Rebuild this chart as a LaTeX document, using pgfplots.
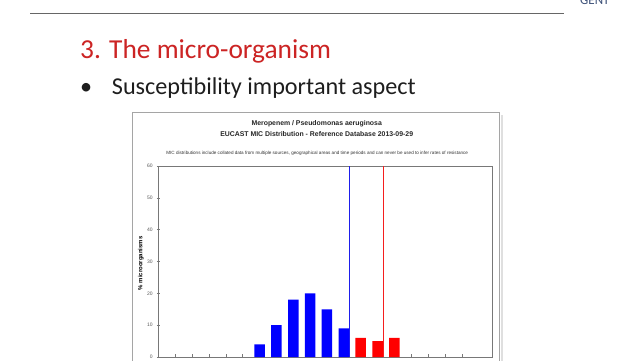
\documentclass[border=0pt]{standalone}
\usepackage{pgfplots}
\pgfplotsset{compat=1.18}
\usepackage{pgfplotstable}
\usepackage{fontspec}
\setmainfont{Carlito}
\newfontfamily\arial{Liberation Sans}
\definecolor{slidered}{RGB}{204,36,36}
\definecolor{slidetext}{RGB}{30,30,30}
\definecolor{frameg}{RGB}{120,120,120}
\definecolor{boxg}{RGB}{165,165,165}
\definecolor{ugent}{RGB}{60,80,120}
\definecolor{barblue}{RGB}{0,0,255}
\definecolor{barred}{RGB}{255,0,0}
\definecolor{lineblue}{RGB}{30,30,235}
\definecolor{linered}{RGB}{245,30,30}

\pgfplotstableread{
x y
5 4
6 10
7 18
8 20
9 15
10 9
}\susc
\pgfplotstableread{
x y
11 6
12 5
13 6
}\resist

\begin{document}
\begin{tikzpicture}[x=1pt,y=1pt]
\path[use as bounding box, fill=white] (0,0) rectangle (640,360);
% slide header
\draw[gray!80!black, line width=0.9pt] (30,346.7) -- (564,346.7);
\node[anchor=base west, inner sep=0, text=ugent, font=\fontsize{13}{14}\selectfont] at (580,355.5) {GENT};
\node[anchor=base west, inner sep=0, text=slidered, font=\fontsize{27.4}{32}\selectfont] at (80,301.7) {3. The micro-organism};
\node[anchor=base west, inner sep=0, text=slidetext, font=\fontsize{24.2}{28}\selectfont] at (80,265.7) {•};
\node[anchor=base west, inner sep=0, text=slidetext, font=\fontsize{24.2}{28}\selectfont] at (111.7,265.7) {Susceptibility important aspect};
% chart window
\draw[boxg, line width=0.8pt] (132.3,-5) -- (132.3,247.7) -- (499.3,247.7) -- (499.3,-5);
\draw[gray!25, line width=2pt] (501.5,-5) -- (501.5,245);
\node[font=\arial\bfseries\fontsize{6.9}{8}\selectfont, text=black!85] at (316.7,236) {Meropenem / Pseudomonas aeruginosa};
\node[font=\arial\bfseries\fontsize{6.9}{8}\selectfont, text=black!85] at (316.7,225.7) {EUCAST MIC Distribution - Reference Database 2013-09-29};
\node[font=\arial\fontsize{4.6}{5}\selectfont, text=black!80] at (317.2,206.3) {MIC distributions include collated data from multiple sources, geographical areas and time periods and can never be used to infer rates of resistance};
\begin{axis}[
  at={(158.3pt,3pt)}, anchor=south west,
  scale only axis, width=334pt, height=191pt,
  xmin=-1, xmax=18.8, ymin=0, ymax=60,
  xtick={0,1,...,17}, xticklabels={},
  ytick={0,10,20,30,40,50,60},
  xtick pos=bottom, ytick pos=left,
  axis line style={frameg, line width=0.7pt},
  tick style={frameg, line width=0.5pt},
  major tick length=3pt,
  tick align=inside,
  ytick align=center,
  /pgf/number format/assume math mode=true,
  yticklabel style={font=\arial\fontsize{5}{6}\selectfont, text=black!65, xshift=-0.5pt},
  ylabel={\% microorganisms},
  ylabel style={font=\arial\bfseries\fontsize{6}{7}\selectfont, at={(axis description cs:-0.052,0.49)}, anchor=center},
  clip=false,
]
\addplot[ybar, bar width=10.5pt, bar shift=0pt, fill=barblue, draw=none] table[x=x,y=y] {\susc};
\addplot[ybar, bar width=10.5pt, bar shift=0pt, fill=barred, draw=none] table[x=x,y=y] {\resist};
% breakpoint lines (S <= 2, R > 8) drawn as thin full-height bars
\addplot[ybar, bar width=1.3pt, bar shift=0pt, fill=lineblue, draw=none] coordinates {(10.334,60)};
\addplot[ybar, bar width=1.3pt, bar shift=0pt, fill=linered, draw=none] coordinates {(12.349,60)};
\end{axis}
\end{tikzpicture}
\end{document}
